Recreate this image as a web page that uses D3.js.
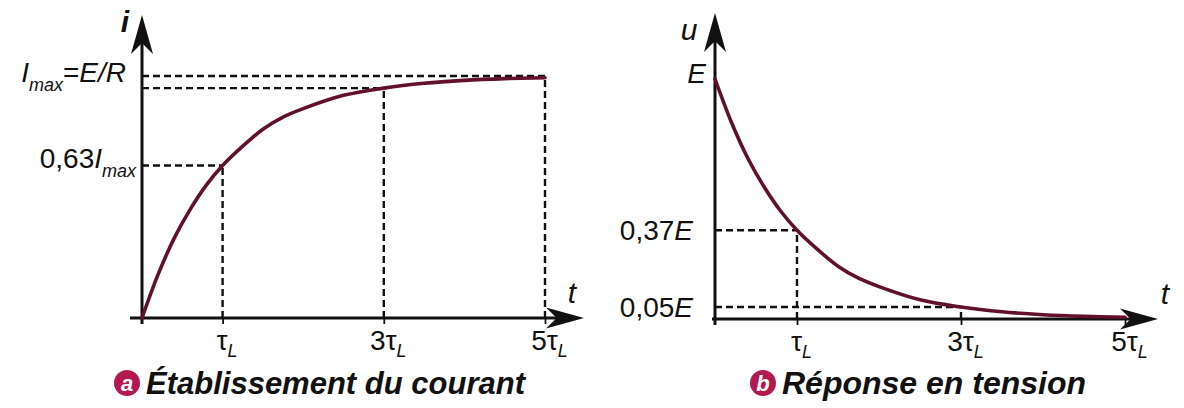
<!DOCTYPE html>
<html>
<head>
<meta charset="utf-8">
<script src="https://cdn.jsdelivr.net/npm/d3@7"></script>
<style>
  html, body { margin: 0; padding: 0; background: #fff; }
  svg { display: block; font-family: "Liberation Sans", Arial, sans-serif; }
</style>
</head>
<body>
<svg id="fig" width="1184" height="408"></svg>
<script>
// Time samples, in units of the time constant tau_L
const tSamples = [0, 0.2, 0.4, 0.6, 0.8, 1, 1.25, 1.5, 1.75, 2, 2.5, 3, 3.5, 4, 4.5, 5];
// Current build-up i / Imax
const currentValues = [0, 0.18, 0.33, 0.45, 0.55, 0.63, 0.71, 0.78, 0.83, 0.865, 0.92, 0.95, 0.97, 0.982, 0.989, 0.993];
// Voltage response u / E
const voltageValues = [1, 0.82, 0.67, 0.55, 0.45, 0.37, 0.29, 0.22, 0.17, 0.135, 0.08, 0.05, 0.03, 0.018, 0.011, 0.007];
// Tick positions on the time axis and their labels (prefix before tau)
const timeTicks = [1, 3, 5];
const timeTickPrefix = ["", "3", "5"];
// Reference levels marked with dashed guides
const currentMarks = [{t: 1, v: 0.63}, {t: 3, v: 0.95}, {t: 5, v: 1}];
const voltageMarks = [{t: 1, v: 0.37}, {t: 3, v: 0.05}];

const svg = d3.select("#fig");
const ink = "#111";
const curveColor = "#62102e";
const badgeColor = "#b3184f";
const labelSize = 28, subSize = 18;

// Arrowhead pointing along +x, tip at origin
function arrowPath(L, w) {
  return `M0,0 L${-L},${-w} L${-L * 0.72},0 L${-L},${w} Z`;
}

function panel(opts) {
  const g = svg.append("g");
  const x = d3.scaleLinear().domain([0, 5]).range(opts.xRange);
  const y = d3.scaleLinear().domain([0, 1]).range(opts.yRange);
  const x0 = x(0), y0 = y(0);

  // dashed guides
  const dash = g.append("g").attr("stroke", ink).attr("stroke-width", 2.4)
    .attr("stroke-dasharray", "7,4").attr("fill", "none");
  opts.marks.forEach(m => {
    dash.append("line").attr("x1", x0).attr("x2", x(m.t)).attr("y1", y(m.v)).attr("y2", y(m.v));
    dash.append("line").attr("x1", x(m.t)).attr("x2", x(m.t)).attr("y1", y0).attr("y2", y(m.v));
  });

  // time axis with ticks
  const axis = d3.axisBottom(x).tickValues(timeTicks).tickSize(6).tickFormat("");
  const ax = g.append("g").attr("transform", `translate(0,${y0})`).call(axis);
  ax.select(".domain").remove();
  ax.selectAll(".tick line").attr("stroke", ink).attr("stroke-width", 1.8);
  ax.selectAll(".tick").each(function (d, i) {
    const t = d3.select(this).append("text")
      .attr("x", 4).attr("y", 32).attr("fill", ink).attr("text-anchor", "middle")
      .attr("font-size", labelSize);
    t.append("tspan").text(timeTickPrefix[i] + "τ");
    t.append("tspan").attr("font-size", subSize).attr("font-style", "italic").attr("dy", 7).text("L");
  });

  // axis lines and arrowheads
  g.append("line").attr("x1", opts.xStart).attr("x2", opts.xTip - 10).attr("y1", y0).attr("y2", y0)
    .attr("stroke", ink).attr("stroke-width", 3);
  g.append("line").attr("x1", x0).attr("x2", x0).attr("y1", y0 + 6).attr("y2", opts.yTip + 10)
    .attr("stroke", ink).attr("stroke-width", 3);
  g.append("path").attr("d", arrowPath(38, 10.5))
    .attr("transform", `translate(${opts.xTip},${y0})`).attr("fill", ink);
  g.append("path").attr("d", arrowPath(39, 11))
    .attr("transform", `translate(${x0},${opts.yTip}) rotate(-90)`).attr("fill", ink);

  // response curve
  const line = d3.line().x((d, i) => x(tSamples[i])).y(d => y(d)).curve(d3.curveCatmullRom.alpha(0.5));
  g.append("path").datum(opts.values).attr("d", line)
    .attr("fill", "none").attr("stroke", curveColor).attr("stroke-width", 3.6)
    .attr("stroke-linecap", "round");

  return {g, x, y};
}

// ---- (a) current build-up ----
const A = panel({
  xRange: [142, 545], yRange: [318, 76], xStart: 130, xTip: 584, yTip: 15,
  marks: currentMarks, values: currentValues
});
{
  const t = A.g.append("text").attr("x", 126).attr("y", A.y(1) + 6).attr("text-anchor", "end")
    .attr("font-size", labelSize).attr("fill", ink);
  t.append("tspan").attr("font-style", "italic").text("I");
  t.append("tspan").attr("font-style", "italic").attr("font-size", subSize).attr("dy", 9).text("max");
  t.append("tspan").attr("dy", -9).text("=");
  t.append("tspan").attr("font-style", "italic").text("E/R");

  const t2 = A.g.append("text").attr("x", 136).attr("y", A.y(0.63) + 2).attr("text-anchor", "end")
    .attr("font-size", labelSize).attr("fill", ink);
  t2.append("tspan").text("0,63");
  t2.append("tspan").attr("font-style", "italic").text("I");
  t2.append("tspan").attr("font-style", "italic").attr("font-size", subSize).attr("dy", 9).text("max");

  A.g.append("text").attr("x", 125).attr("y", 32).attr("font-size", 30).attr("font-style", "italic")
    .attr("font-weight", "bold").attr("text-anchor", "middle").attr("fill", ink).text("i");
  A.g.append("text").attr("x", 572).attr("y", 303).attr("font-size", 30).attr("font-style", "italic")
    .attr("text-anchor", "middle").attr("fill", ink).text("t");
}

// ---- (b) voltage response ----
const B = panel({
  xRange: [715, 1125], yRange: [319, 79], xStart: 712, xTip: 1158, yTip: 13,
  marks: voltageMarks, values: voltageValues
});
{
  B.g.append("text").attr("x", 706).attr("y", B.y(1) + 4).attr("text-anchor", "end")
    .attr("font-size", labelSize).attr("font-style", "italic").attr("fill", ink).text("E");
  [[0.37, "0,37"], [0.05, "0,05"]].forEach(([v, s]) => {
    const t = B.g.append("text").attr("x", 693).attr("y", B.y(v) + 10).attr("text-anchor", "end")
      .attr("font-size", labelSize).attr("fill", ink);
    t.append("tspan").text(s);
    t.append("tspan").attr("font-style", "italic").text("E");
  });
  B.g.append("text").attr("x", 689).attr("y", 40).attr("font-size", 30).attr("font-style", "italic")
    .attr("text-anchor", "middle").attr("fill", ink).text("u");
  B.g.append("text").attr("x", 1165).attr("y", 304).attr("font-size", 30).attr("font-style", "italic")
    .attr("text-anchor", "middle").attr("fill", ink).text("t");
}

// ---- captions ----
function caption(cx, letter, label, size) {
  svg.append("circle").attr("cx", cx).attr("cy", 383).attr("r", 13).attr("fill", badgeColor);
  svg.append("text").attr("x", cx).attr("y", 391).attr("text-anchor", "middle")
    .attr("font-size", 22).attr("font-weight", "bold").attr("font-style", "italic")
    .attr("fill", "#fff").text(letter);
  svg.append("text").attr("x", cx + 19).attr("y", 394).attr("font-size", size)
    .attr("font-weight", "bold").attr("font-style", "italic").attr("fill", ink).text(label);
}
caption(127, "a", "Établissement du courant", 31);
caption(763, "b", "Réponse en tension", 32);
</script>
</body>
</html>
